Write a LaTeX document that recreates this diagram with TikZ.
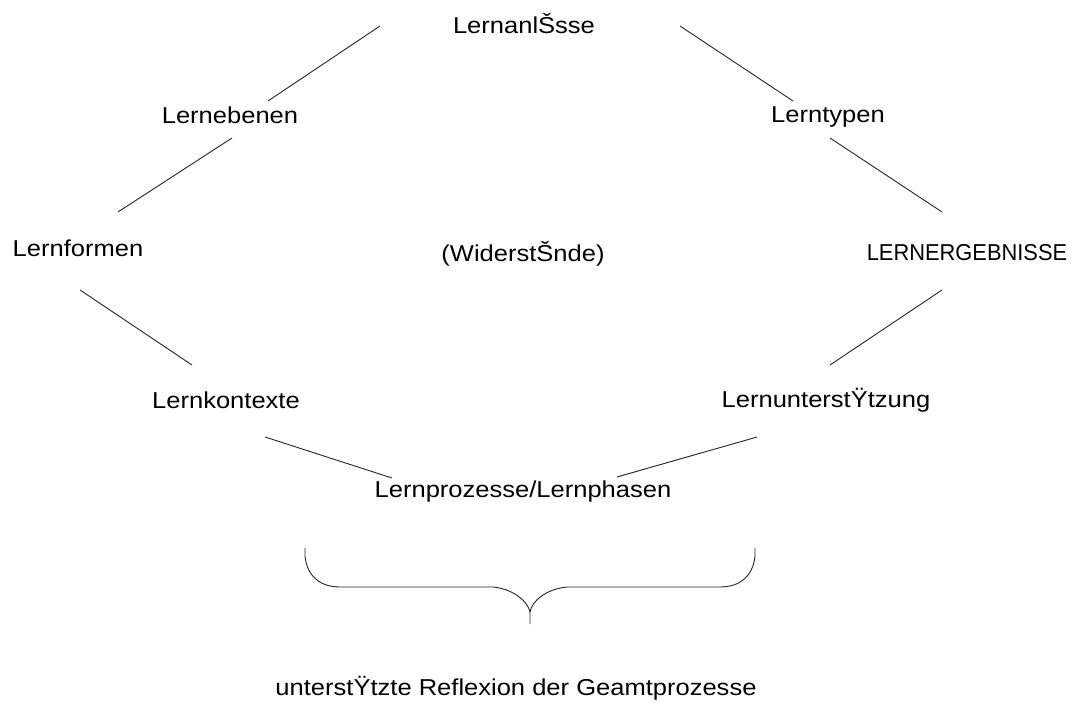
\documentclass[tikz,border=0pt]{standalone}
\usepackage{fontspec}
\setmainfont[FakeStretch=1.11]{Liberation Sans}
\newfontfamily\capsfont[FakeStretch=0.95]{Liberation Sans}
\begin{document}
\begin{tikzpicture}[x=1pt,y=-1pt,
  term/.style={anchor=base,inner sep=0pt,font=\fontsize{23}{27}\selectfont},
  capsterm/.style={anchor=base,inner sep=0pt,font=\fontsize{23}{27}\selectfont\capsfont},
  link/.style={line width=0.9pt,black!85},
  brace/.style={line width=0.9pt,black!85,line join=round}]
\useasboundingbox (0,0) rectangle (1079,711);
\fill[white] (0,0) rectangle (1079,711);

% terms of the ring
\node[term] (anlass)   at (524,34)  {LernanlŠsse};
\node[term] (ebenen)   at (230,124) {Lernebenen};
\node[term] (typen)    at (828,123) {Lerntypen};
\node[term] (formen)   at (78,257)  {Lernformen};
\node[term] (wider)    at (523,262) {(WiderstŠnde)};
\node[capsterm] (ergeb) at (967,261) {LERNERGEBNISSE};
\node[term] (kontext)  at (226,408) {Lernkontexte};
\node[term] (unterst)  at (826,407) {LernunterstŸtzung};
\node[term] (prozess)  at (523,497) {Lernprozesse/Lernphasen};
\node[term] (reflex)   at (516,695) {unterstŸtzte Reflexion der Geamtprozesse};

% free ends of the connecting strokes
\coordinate (a1) at (380,26);  \coordinate (e1) at (268,101);
\coordinate (a2) at (680,26);  \coordinate (t1) at (793,101);
\coordinate (e2) at (232,138); \coordinate (f1) at (118,212);
\coordinate (t2) at (830,138); \coordinate (g1) at (942,212);
\coordinate (f2) at (80,290);  \coordinate (k1) at (192,365);
\coordinate (g2) at (942,290); \coordinate (u1) at (830,365);
\coordinate (k2) at (265,437); \coordinate (p1) at (392,478);
\coordinate (u2) at (757,437); \coordinate (p2) at (617,477);

\draw[link] (a1) -- (e1);
\draw[link] (a2) -- (t1);
\draw[link] (e2) -- (f1);
\draw[link] (t2) -- (g1);
\draw[link] (f2) -- (k1);
\draw[link] (g2) -- (u1);
\draw[link] (k2) -- (p1);
\draw[link] (u2) -- (p2);

% curly brace under the ring
\coordinate (bl) at (305,548);
\coordinate (br) at (755,548);
\coordinate (bc) at (530,612);
\coordinate (bt) at (530,624);
\draw[brace] (bl) -- (305,556) .. controls (307,576) and (320,587) .. (340,587)
  -- (493,587) .. controls (514,589) and (528,602) .. (bc) -- (bt);
\draw[brace] (bc) .. controls (532,601) and (546,589) .. (567,587)
  -- (720,587) .. controls (740,587) and (753,576) .. (755,556) -- (br);
\end{tikzpicture}
\end{document}
